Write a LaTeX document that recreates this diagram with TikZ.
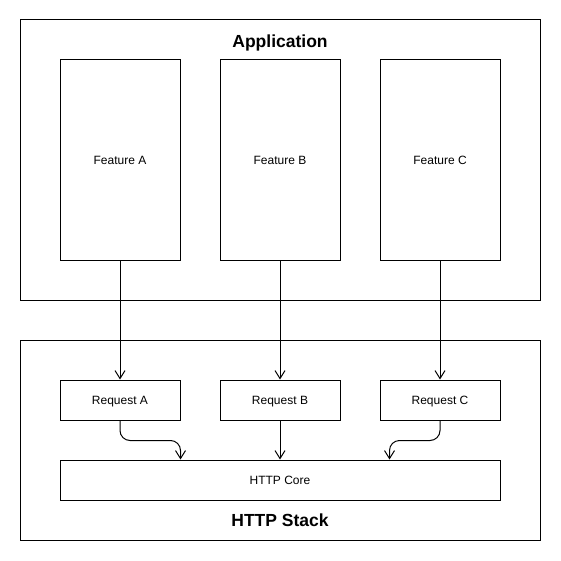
\documentclass[tikz,border=0pt]{standalone}
\usepackage{fontspec}
\setmainfont{Liberation Sans}
\usetikzlibrary{arrows.meta, positioning, calc}

\begin{document}
\begin{tikzpicture}[
            x=1pt, y=-1pt,
            container/.style={rectangle, draw, line width=1pt, minimum width=520pt, minimum height=#1, inner sep=0pt},
            feature/.style={rectangle, draw, line width=1pt, minimum width=120pt, minimum height=200pt, text height=9.6pt, text depth=0pt, font=\fontsize{12}{14}\selectfont},
            request/.style={rectangle, draw, line width=1pt, minimum width=120pt, minimum height=40pt, text height=9.6pt, text depth=0pt, font=\fontsize{12}{14}\selectfont},
            title/.style={text height=12.5pt, text depth=0pt, font=\fontsize{17.5}{20}\selectfont\bfseries},
            arrow/.style={-{Straight Barb[length=8pt, width=10pt]}, line width=1pt}
        ]
            \useasboundingbox (0,0) rectangle (561,561);

% Application
            \node[container=280pt] (app) at (280,160) {};
            \node[title] (apptitle) at (280,41) {Application};
            \node[feature] (featA) at (120,160) {Feature A};
            \node[feature] (featB) at (280,160) {Feature B};
            \node[feature] (featC) at (440,160) {Feature C};

% HTTP Stack
            \node[container=200pt] (stack) at (280,440) {};
            \node[title] (stacktitle) at (280,520) {HTTP Stack};
            \node[request] (reqA) at (120,400) {Request A};
            \node[request] (reqB) at (280,400) {Request B};
            \node[request] (reqC) at (440,400) {Request C};
            \node[request, minimum width=440pt] (core) at (280,480) {HTTP Core};

            \coordinate (inA) at ($(reqA.east |- core.north)$);
            \coordinate (inC) at ($(reqC.west |- core.north)+(10,0)$);

            \draw[arrow] (featA) -- (reqA);
            \draw[arrow] (featB) -- (reqB);
            \draw[arrow] (featC) -- (reqC);

            \draw[arrow, rounded corners=10pt] (reqA.south) -- ++(0,20) -| (inA);
            \draw[arrow] (reqB) -- (core);
            \draw[arrow, rounded corners=10pt] (reqC.south) -- ++(0,20) -| (inC);

        \end{tikzpicture}
\end{document}
